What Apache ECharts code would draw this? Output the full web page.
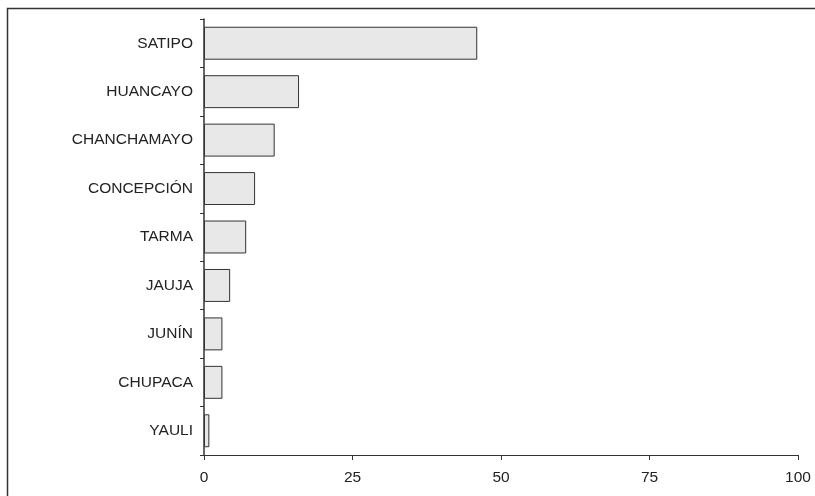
<!DOCTYPE html>
<html><head><meta charset="utf-8">
<script src="https://cdn.jsdelivr.net/npm/echarts@6/dist/echarts.min.js"></script>
<style>html,body{margin:0;padding:0;background:#fff}#c{width:815px;height:496px}</style>
</head><body><div id="c"></div>
<script>
const categories = ["SATIPO","HUANCAYO","CHANCHAMAYO","CONCEPCIÓN","TARMA","JAUJA","JUNÍN","CHUPACA","YAULI"];
const values = [46.0, 16.0, 11.9, 8.6, 7.1, 4.4, 3.1, 3.1, 0.9];
const xTicks = [0, 25, 50, 75, 100];

const chart = echarts.init(document.getElementById('c'), null, {renderer:'canvas'});
chart.setOption({
  animation:false,
  graphic:[{type:'rect',shape:{x:7.5,y:8.5,width:900,height:600},style:{fill:null,stroke:'#333',lineWidth:1.5},z:-1}],
  grid:{left:204,right:17,top:19,bottom:41,containLabel:false},
  xAxis:{type:'value',min:xTicks[0],max:xTicks[xTicks.length-1],interval:25,
    axisLine:{show:true,lineStyle:{color:'#333',width:1}},
    axisTick:{show:true,length:5,inside:false,lineStyle:{color:'#333'}},
    splitLine:{show:false},
    axisLabel:{color:'#222',fontFamily:'Liberation Sans, Arial',fontSize:15.5,margin:15}},
  yAxis:{type:'category',data:categories,inverse:true,
    axisLine:{show:true,lineStyle:{color:'#333',width:1.5}},
    axisTick:{show:true,length:4,lineStyle:{color:'#333'}},
    axisLabel:{color:'#222',fontFamily:'Liberation Sans, Arial',fontSize:15.5,margin:11}},
  series:[{type:'bar',data:values,barWidth:'68%',
    itemStyle:{color:'#e8e8e8',borderColor:'#333',borderWidth:1}}]
});
</script></body></html>
